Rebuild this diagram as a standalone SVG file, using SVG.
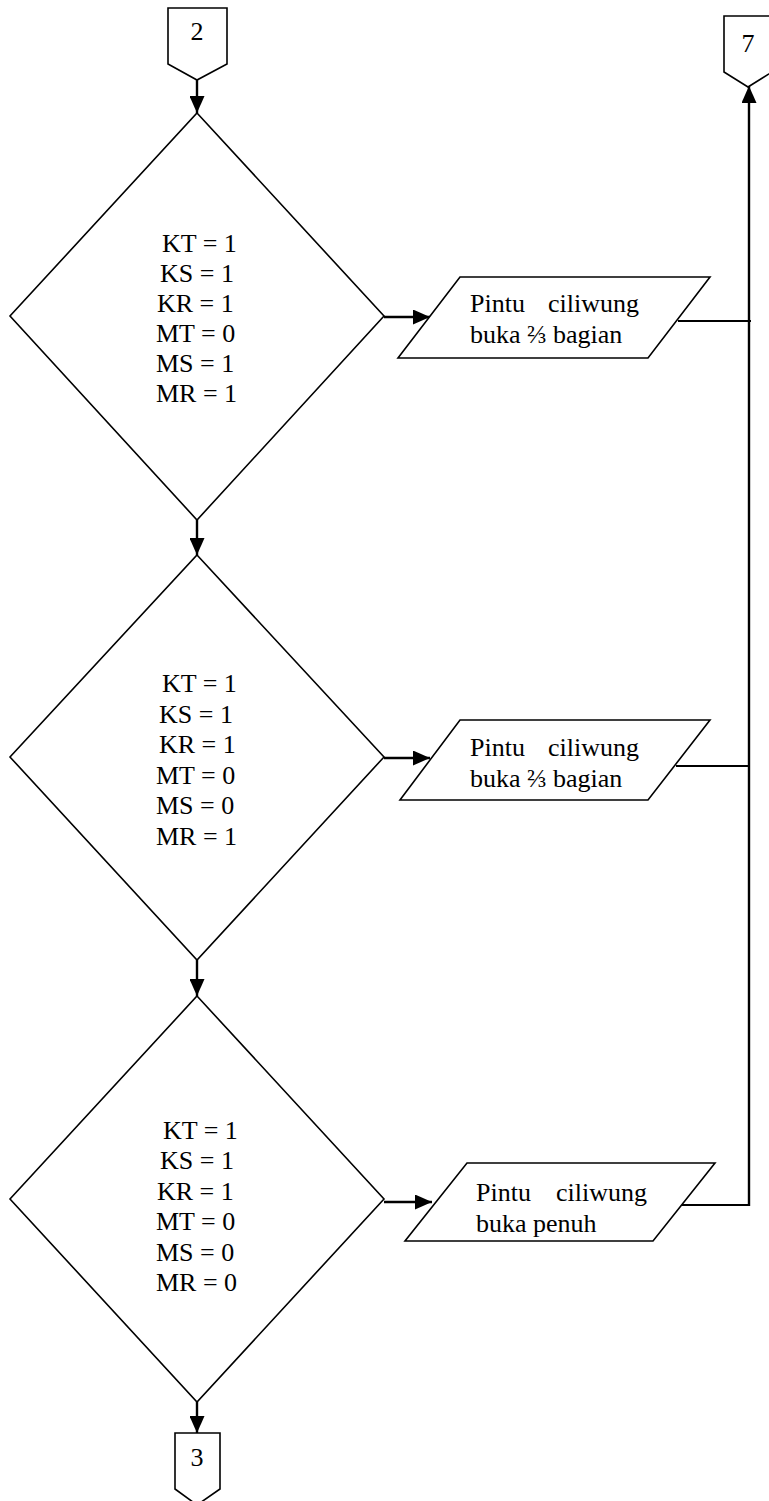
<svg xmlns="http://www.w3.org/2000/svg" width="769" height="1501" viewBox="0 0 769 1501">
  <style>
    .shape { fill: #ffffff; stroke: #000000; stroke-width: 1.6; stroke-linejoin: miter; }
    .line { fill: none; stroke: #000000; stroke-width: 2; }
    .flow { fill: none; stroke: #000000; stroke-width: 2.4; marker-end: url(#arrow); }
    .t { font-family: "Liberation Serif", "Times New Roman", serif; font-size: 26px; fill: #000000; }
    .c { text-anchor: middle; }
  </style>
  <defs>
    <marker id="arrow" markerWidth="17" markerHeight="15" refX="17" refY="7.5" orient="auto" markerUnits="userSpaceOnUse">
      <path d="M0,0 L17,7.5 L0,15 Z" fill="#000000"/>
    </marker>
  </defs>
  <rect width="769" height="1501" fill="#ffffff"/>

  <!-- connectors -->
  <g id="connectors">
    <line class="flow" x1="197" y1="80" x2="197" y2="113"/>
    <line class="flow" x1="197" y1="520" x2="197" y2="555"/>
    <line class="flow" x1="197" y1="960" x2="197" y2="996"/>
    <line class="flow" x1="197" y1="1402" x2="197" y2="1433"/>
    <line class="flow" x1="384" y1="317" x2="430" y2="317"/>
    <line class="flow" x1="384" y1="758" x2="430" y2="758"/>
    <line class="flow" x1="384" y1="1202" x2="432" y2="1202"/>
    <line class="line" x1="678" y1="321" x2="751" y2="321"/>
    <line class="line" x1="676" y1="766" x2="750" y2="766"/>
    <line class="line" x1="682" y1="1205" x2="750" y2="1205"/>
    <line class="flow" x1="749" y1="1206" x2="749" y2="86"/>
  </g>

  <!-- off-page connector 2 -->
  <g id="off-page-2">
    <polygon class="shape" points="168,8 227,8 227,64 197,80 168,64"/>
    <text class="t c" x="197" y="40">2</text>
  </g>

  <!-- off-page connector 7 -->
  <g id="off-page-7">
    <polygon class="shape" points="724,16 772,16 772,72 748,87 724,72"/>
    <text class="t c" x="748" y="52">7</text>
  </g>

  <!-- decision 1 -->
  <g id="decision-1">
    <polygon class="shape" points="197,113 384,316 197,520 10,316"/>
    <text class="t" x="162" y="252">KT = 1</text>
    <text class="t" x="160" y="282">KS = 1</text>
    <text class="t" x="157" y="312">KR = 1</text>
    <text class="t" x="156" y="342">MT = 0</text>
    <text class="t" x="156" y="372">MS = 1</text>
    <text class="t" x="156" y="402">MR = 1</text>
  </g>

  <!-- output 1 -->
  <g id="output-1">
    <polygon class="shape" points="460,277 710,277 648,358 398,358"/>
    <text class="t" x="470" y="312">Pintu</text>
    <text class="t" x="548" y="312">ciliwung</text>
    <text class="t" x="470" y="343">buka ⅔ bagian</text>
  </g>

  <!-- decision 2 -->
  <g id="decision-2">
    <polygon class="shape" points="197,555 384,757 197,960 10,757"/>
    <text class="t" x="162" y="692">KT = 1</text>
    <text class="t" x="159" y="723">KS = 1</text>
    <text class="t" x="159" y="753">KR = 1</text>
    <text class="t" x="156" y="784">MT = 0</text>
    <text class="t" x="156" y="814">MS = 0</text>
    <text class="t" x="156" y="845">MR = 1</text>
  </g>

  <!-- output 2 -->
  <g id="output-2">
    <polygon class="shape" points="460,720 710,720 648,800 400,800"/>
    <text class="t" x="470" y="756">Pintu</text>
    <text class="t" x="548" y="756">ciliwung</text>
    <text class="t" x="470" y="787">buka ⅔ bagian</text>
  </g>

  <!-- decision 3 -->
  <g id="decision-3">
    <polygon class="shape" points="197,996 384,1199 197,1402 10,1199"/>
    <text class="t" x="163" y="1139">KT = 1</text>
    <text class="t" x="160" y="1169">KS = 1</text>
    <text class="t" x="157" y="1200">KR = 1</text>
    <text class="t" x="156" y="1230">MT = 0</text>
    <text class="t" x="156" y="1261">MS = 0</text>
    <text class="t" x="156" y="1291">MR = 0</text>
  </g>

  <!-- output 3 -->
  <g id="output-3">
    <polygon class="shape" points="467,1163 715,1163 653,1241 405,1241"/>
    <text class="t" x="476" y="1201">Pintu</text>
    <text class="t" x="556" y="1201">ciliwung</text>
    <text class="t" x="476" y="1232">buka penuh</text>
  </g>

  <!-- off-page connector 3 -->
  <g id="off-page-3">
    <polygon class="shape" points="175,1433 220,1433 220,1489 197,1505 175,1489"/>
    <text class="t c" x="197" y="1466">3</text>
  </g>
</svg>
